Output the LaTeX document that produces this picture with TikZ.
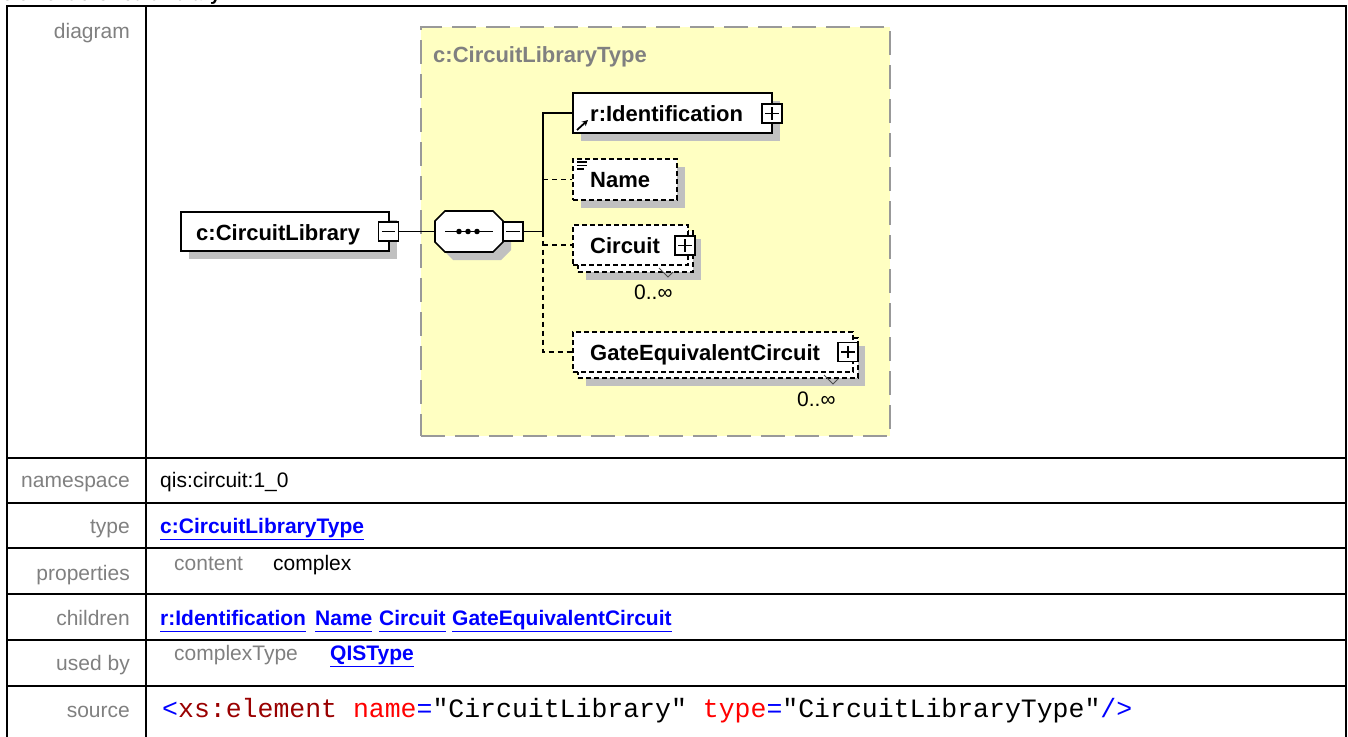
\documentclass[tikz,border=0pt]{standalone}
\usepackage{fontspec}
\setmainfont{Liberation Sans}
\newfontfamily\codefont{Liberation Mono}
\usetikzlibrary{arrows.meta}

\definecolor{lblgray}{HTML}{808080}
\definecolor{linkblue}{HTML}{0000FF}
\definecolor{typefill}{HTML}{FFFFC2}
\definecolor{typeline}{HTML}{999999}
\definecolor{shadegray}{HTML}{C0C0C0}
\definecolor{codeblue}{HTML}{0000FF}
\definecolor{codedark}{HTML}{990000}
\definecolor{codered}{HTML}{FF0000}

\newcommand\tblfont{\fontsize{21}{25}\selectfont}
\newcommand\dgfont{\fontsize{22}{26}\selectfont\bfseries}
\newcommand\ulink[1]{\underline{#1\vphantom{y}}}

\tikzset{
  tbl/.style={line width=2pt, line cap=rect},
  lbl/.style={anchor=base east, inner sep=0pt, text=lblgray, font=\tblfont},
  val/.style={anchor=base west, inner sep=0pt, text=black, font=\tblfont},
  sub/.style={anchor=base west, inner sep=0pt, text=lblgray, font=\tblfont},
  lnk/.style={anchor=base west, inner sep=0pt, text=linkblue, font=\tblfont\bfseries},
  codetxt/.style={anchor=base west, inner sep=0pt, font=\codefont\fontsize{26.5}{30}\selectfont},
  ebox/.style={draw, fill=white, line width=1.6pt, inner sep=0pt, rectangle},
  optbox/.style={ebox, dash pattern=on 5pt off 3pt},
  etext/.style={anchor=base west, inner sep=0pt, font=\dgfont},
  pm/.style={draw, fill=white, line width=1.4pt, minimum width=20pt, minimum height=19pt, inner sep=0pt},
  sign/.style={line width=1.4pt},
  conn/.style={line width=1.6pt},
  optconn/.style={line width=1.6pt, dash pattern=on 5pt off 4pt},
  shade/.style={fill=shadegray},
  occ/.style={anchor=base west, inner sep=0pt, font=\fontsize{21}{25}\selectfont},
  tick/.style={draw=black!70, line width=1pt},
}

\begin{document}
\begin{tikzpicture}[x=1pt, y=-1pt]
\useasboundingbox (0,0) rectangle (1348,736);

% page heading (runs off the top edge)
\node[anchor=base west, inner sep=0pt, font=\fontsize{19}{22}\selectfont\bfseries] (heading) at (2,0.5) {element c:CircuitLibrary};

% ---------- table grid ----------
\draw[tbl] (7,6) -- (1346,6);
\draw[tbl] (7,6) -- (7,740);
\draw[tbl] (146,6) -- (146,740);
\draw[tbl] (1346,6) -- (1346,740);
\foreach \yy in {458,503,548,594,640,686} {
  \draw[tbl] (7,\yy) -- (1346,\yy);
}

% ---------- row labels ----------
\node[lbl] (l-diagram) at (130,38) {diagram};
\node[lbl] (l-ns) at (130,487) {namespace};
\node[lbl] (l-type) at (130,533) {type};
\node[lbl] (l-props) at (130,580) {properties};
\node[lbl] (l-children) at (130,625) {children};
\node[lbl] (l-usedby) at (130,670) {used by};
\node[lbl] (l-source) at (130,717) {source};

% ---------- row values ----------
\node[val] (v-ns) at (160,487) {qis:circuit:1\_0};
\node[lnk] (v-type) at (160,533) {\ulink{c:CircuitLibraryType}};
\node[sub] (v-content) at (174,570) {content};
\node[val] (v-complex) at (273,570) {complex};
\node[lnk] (v-c1) at (160,625) {\ulink{r:Identification}};
\node[lnk] (v-c2) at (315,625) {\ulink{Name}};
\node[lnk] (v-c3) at (379,625) {\ulink{Circuit}};
\node[lnk] (v-c4) at (452,625) {\ulink{GateEquivalentCircuit}};
\node[sub] (v-ctype) at (174,660) {complexType};
\node[lnk] (v-qis) at (330,660) {\ulink{QISType}};
\node[codetxt] (v-src) at (162,717) {{\color{codeblue}<}{\color{codedark}xs:element} {\color{codered}name}{\color{codeblue}=}"CircuitLibrary" {\color{codered}type}{\color{codeblue}=}"CircuitLibraryType"{\color{codeblue}/>}};

% ---------- complex type frame ----------
\node[draw=typeline, fill=typefill, line width=2pt, dash pattern=on 24pt off 10pt,
      minimum width=469pt, minimum height=409pt, inner sep=0pt] (ctype) at (655.5,231.5) {};
\node[anchor=base west, inner sep=0pt, font=\dgfont, text=lblgray] (ctype-title) at (433,62) {c:CircuitLibraryType};

% ---------- root element ----------
\fill[shade] (189,220) rectangle (397,259);
\node[ebox, minimum width=208pt, minimum height=39pt] (root) at (285,231.5) {};
\node[etext] (root-t) at (196,240) {c:CircuitLibrary};
\node[pm] (root-m) at (388.5,231.5) {};
\draw[sign] ([xshift=4pt]root-m.west) -- ([xshift=-4pt]root-m.east);

% ---------- sequence compositor ----------
\fill[shade] (453,219) -- (501,219) -- (511,229) -- (511,250) -- (501,260) -- (453,260) -- (443,250) -- (443,229) -- cycle;
\node[minimum width=68pt, minimum height=41pt, inner sep=0pt] (seq) at (469,231.5) {};
\draw[line width=1.6pt, fill=white] (445,211) -- (493,211) -- (503,221) -- (503,242) -- (493,252) -- (445,252) -- (435,242) -- (435,221) -- cycle;
\draw[line width=1.6pt] (445,231.5) -- (493,231.5);
\foreach \dx in {459,468,477} { \fill (\dx,231.5) circle (2.8pt); }
\node[pm] (seq-m) at (513,231.5) {};
\draw[sign] ([xshift=4pt]seq-m.west) -- ([xshift=-4pt]seq-m.east);
\draw[conn] (root-m.east) -- (seq.west);

% ---------- r:Identification ----------
\fill[shade] (581,101) rectangle (780,141);
\node[ebox, minimum width=199pt, minimum height=40pt] (rid) at (672.5,113) {};
\node[etext] (rid-t) at (590,121) {r:Identification};
\draw[line width=1.8pt, -{Stealth[length=6pt,width=6pt]}] (577,130) -- (588,120);
\node[pm] (rid-p) at (772,113.5) {};
\draw[sign] ([xshift=4pt]rid-p.west) -- ([xshift=-4pt]rid-p.east);
\draw[sign] ([yshift=-4pt]rid-p.north) -- ([yshift=4pt]rid-p.south);

% ---------- Name ----------
\fill[shade] (581,167) rectangle (685,208);
\node[optbox, minimum width=104pt, minimum height=41pt] (name) at (625,179.5) {};
\node[etext] (name-t) at (590,187) {Name};
\draw[line width=1.1pt] (577,162) -- (587,162) (577,165.5) -- (587,165.5) (577,169) -- (584,169);

% ---------- Circuit (0..unbounded) ----------
\fill[shade] (586,239) rectangle (701,280);
\node[optbox, minimum width=115pt, minimum height=41pt] (circ-back) at (635.5,251.5) {};
\node[optbox, minimum width=115pt, minimum height=40pt] (circ) at (630.5,245) {};
\node[etext] (circ-t) at (590,253) {Circuit};
\node[pm] (circ-p) at (685,245.5) {};
\draw[sign] ([xshift=4pt]circ-p.west) -- ([xshift=-4pt]circ-p.east);
\draw[sign] ([yshift=-4pt]circ-p.north) -- ([yshift=4pt]circ-p.south);
\draw[tick] (659,268) -- (668,277) -- (673,272);
\node[occ] (circ-occ) at (634,299) {0..∞};

% ---------- GateEquivalentCircuit (0..unbounded) ----------
\fill[shade] (586,346) rectangle (865,386);
\node[optbox, minimum width=280pt, minimum height=40pt] (gate-back) at (718,358) {};
\node[optbox, minimum width=280pt, minimum height=40pt] (gate) at (713,352) {};
\node[etext] (gate-t) at (590,360) {GateEquivalentCircuit};
\node[pm] (gate-p) at (848,352) {};
\draw[sign] ([xshift=4pt]gate-p.west) -- ([xshift=-4pt]gate-p.east);
\draw[sign] ([yshift=-4pt]gate-p.north) -- ([yshift=4pt]gate-p.south);
\draw[tick] (824,375) -- (833,384) -- (838,379);
\node[occ] (gate-occ) at (797,406) {0..∞};

% ---------- sequence branches ----------
\coordinate (sp-top) at (543,113);
\coordinate (sp-seq) at (543,231.5);
\coordinate (sp-name) at (543,179.5);
\coordinate (sp-circ) at (543,245);
\coordinate (sp-gate) at (543,352);
\draw[conn] (seq-m.east) -- (sp-seq);
\draw[conn] (sp-seq) -- (sp-top) -- (rid.west);
\draw[optconn] (sp-seq) -- (sp-gate) -- (gate.west);
\draw[optconn] (sp-name) -- (name.west);
\draw[optconn] (sp-circ) -- (circ.west);
\end{tikzpicture}
\end{document}
